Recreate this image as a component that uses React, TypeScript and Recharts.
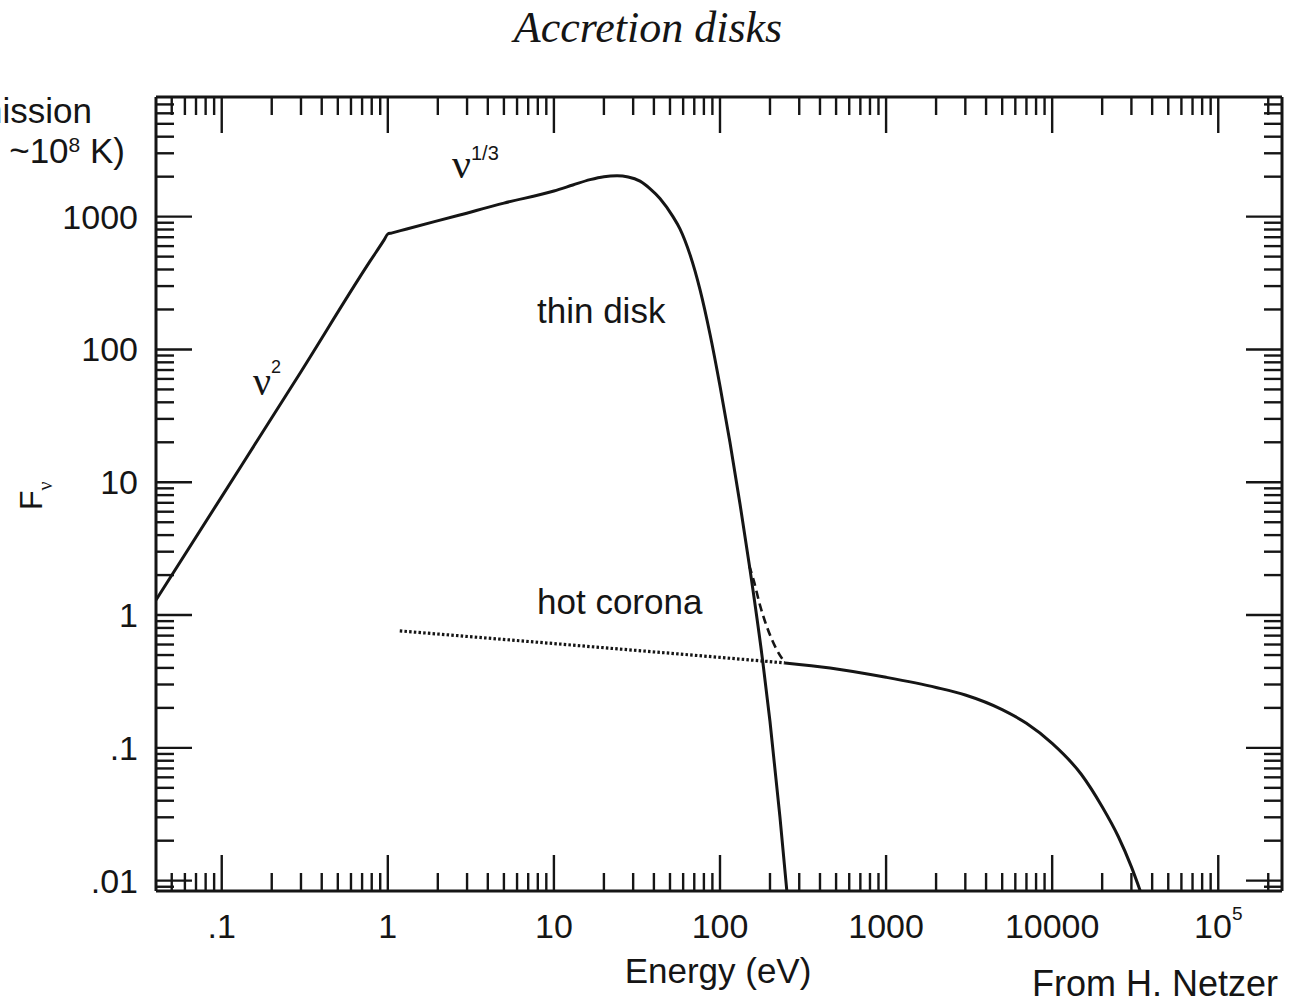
import React from 'react';
import { ComposedChart, Line, XAxis, YAxis } from 'recharts';

// ---- axes ----
const xDomain = [0.0402, 242000];
const yDomain = [0.00836, 7960];
const xMajorTicks = [0.1, 1, 10, 100, 1000, 10000, 100000];
const xMajorLabels = ['.1', '1', '10', '100', '1000', '10000', '10^5'];
const yMajorTicks = [0.01, 0.1, 1, 10, 100, 1000];
const yMajorLabels = ['.01', '.1', '1', '10', '100', '1000'];
const minorMultipliers = [2, 3, 4, 5, 6, 7, 8, 9];
const xDecades = [0.01, 0.1, 1, 10, 100, 1000, 10000, 100000];
const yDecades = [0.001, 0.01, 0.1, 1, 10, 100, 1000];

// ---- series (energy in eV, flux F_nu) ----
const thinDiskEnergy = [0.0402, 0.1, 0.3, 0.78, 0.95, 1.0, 1.05, 1.3, 2.71, 5, 10, 13, 16.5, 20, 24, 28, 33, 38, 43.5, 52.1, 57.4, 65.9, 75.8, 87.1, 100, 114.8, 131.9, 151.6, 181.6, 200, 229.7, 253];
const thinDiskFlux = [1.3, 7.8, 68, 460, 668, 740, 752, 808, 1030, 1265, 1560, 1730, 1900, 2000, 2030, 1990, 1850, 1620, 1370, 1000, 810, 520, 282, 130, 53, 20, 6.9, 2.2, 0.43, 0.158, 0.03, 0.0082];

const coronaExtrapEnergy = [1.18, 10, 100, 246];
const coronaExtrapFlux = [0.76, 0.61, 0.48, 0.436];

const coronaEnergy = [246, 460, 1000, 2000, 3000, 5000, 7000, 10000, 15000, 20000, 25000, 30000, 34000];
const coronaFlux = [0.436, 0.4, 0.34, 0.285, 0.25, 0.194, 0.153, 0.108, 0.063, 0.036, 0.0215, 0.0127, 0.0083];

const sumEnergy = [150, 160, 174, 192, 220, 246];
const sumFlux = [2.35, 1.8, 1.19, 0.81, 0.546, 0.44];

const zip = (es: number[], fs: number[]) => es.map((e, i) => ({ e, f: fs[i] }));
const thinDiskData = zip(thinDiskEnergy, thinDiskFlux);
const coronaExtrapData = zip(coronaExtrapEnergy, coronaExtrapFlux);
const coronaData = zip(coronaEnergy, coronaFlux);
const sumData = zip(sumEnergy, sumFlux);

const inDomain = (v: number, d: number[]) => v >= d[0] && v <= d[1];
const buildTicks = (decades: number[], d: number[]) => {
  const out: number[] = [];
  decades.forEach((dec) => {
    [1, ...minorMultipliers].forEach((m) => {
      const v = +(m * dec).toPrecision(6);
      if (inDomain(v, d)) out.push(v);
    });
  });
  return out;
};
const xTicks = buildTicks(xDecades, xDomain);
const yTicks = buildTicks(yDecades, yDomain);

const INK = '#151515';
const SANS = '"Liberation Sans", Arial, Helvetica, sans-serif';
const SERIF = '"Liberation Serif", "Times New Roman", serif';
const MAJOR = 36;
const MINOR = 18;
const TICK_W = 2.4;
const LABEL_SIZE = 34;

const majorIndex = (v: number, majors: number[]) =>
  majors.findIndex((m) => Math.abs(m - v) / m < 1e-6);

const renderXLabel = (label: string, x: number, y: number) => {
  if (label === '10^5') {
    return (
      <text x={x} y={y} textAnchor="middle" fontFamily={SANS} fontSize={LABEL_SIZE} fill={INK}>
        10<tspan dy={-18} fontSize={19}>5</tspan>
      </text>
    );
  }
  return (
    <text x={x} y={y} textAnchor="middle" fontFamily={SANS} fontSize={LABEL_SIZE} fill={INK}>
      {label}
    </text>
  );
};

const BottomTick = (props: any) => {
  const { x, y, payload } = props;
  const idx = majorIndex(payload.value, xMajorTicks);
  const len = idx >= 0 ? MAJOR : MINOR;
  return (
    <g>
      <line x1={x} y1={y} x2={x} y2={y - len} stroke={INK} strokeWidth={TICK_W} />
      {idx >= 0 ? renderXLabel(xMajorLabels[idx], x, y + 47) : null}
    </g>
  );
};

const TopTick = (props: any) => {
  const { x, y, payload } = props;
  const idx = majorIndex(payload.value, xMajorTicks);
  const len = idx >= 0 ? MAJOR : MINOR;
  return <line x1={x} y1={y} x2={x} y2={y + len} stroke={INK} strokeWidth={TICK_W} />;
};

const LeftTick = (props: any) => {
  const { x, y, payload } = props;
  const idx = majorIndex(payload.value, yMajorTicks);
  const len = idx >= 0 ? MAJOR : MINOR;
  return (
    <g>
      <line x1={x} y1={y} x2={x + len} y2={y} stroke={INK} strokeWidth={TICK_W} />
      {idx >= 0 ? (
        <text x={x - 18} y={y + 12} textAnchor="end" fontFamily={SANS} fontSize={LABEL_SIZE} fill={INK}>
          {yMajorLabels[idx]}
        </text>
      ) : null}
    </g>
  );
};

const RightTick = (props: any) => {
  const { x, y, payload } = props;
  const idx = majorIndex(payload.value, yMajorTicks);
  const len = idx >= 0 ? MAJOR : MINOR;
  return <line x1={x} y1={y} x2={x - len} y2={y} stroke={INK} strokeWidth={TICK_W} />;
};

const axisLine = { stroke: INK, strokeWidth: 3 };

export default function App() {
  return (
    <div style={{ position: 'absolute', left: 0, top: 0, width: 1292, height: 1004, background: '#fff' }}>
      <ComposedChart
        width={1292}
        height={1004}
        margin={{ top: 87, right: 0, bottom: 53, left: 96 }}
      >
        <XAxis
          xAxisId="bottom"
          orientation="bottom"
          dataKey="e"
          type="number"
          scale="log"
          domain={xDomain}
          allowDataOverflow
          ticks={xTicks}
          interval={0}
          tickSize={0}
          tickMargin={0}
          tickLine={false}
          axisLine={axisLine}
          height={60}
          tick={<BottomTick />}
        />
        <XAxis
          xAxisId="top"
          orientation="top"
          dataKey="e"
          type="number"
          scale="log"
          domain={xDomain}
          allowDataOverflow
          ticks={xTicks}
          interval={0}
          tickSize={0}
          tickMargin={0}
          tickLine={false}
          axisLine={axisLine}
          height={10}
          tick={<TopTick />}
        />
        <YAxis
          yAxisId="left"
          orientation="left"
          type="number"
          scale="log"
          domain={yDomain}
          allowDataOverflow
          ticks={yTicks}
          interval={0}
          tickSize={0}
          tickMargin={0}
          tickLine={false}
          axisLine={axisLine}
          width={60}
          tick={<LeftTick />}
        />
        <YAxis
          yAxisId="right"
          orientation="right"
          type="number"
          scale="log"
          domain={yDomain}
          allowDataOverflow
          ticks={yTicks}
          interval={0}
          tickSize={0}
          tickMargin={0}
          tickLine={false}
          axisLine={axisLine}
          width={10}
          tick={<RightTick />}
        />
        <Line
          data={coronaExtrapData}
          dataKey="f"
          xAxisId="bottom"
          yAxisId="left"
          type="linear"
          stroke={INK}
          strokeWidth={3.2}
          strokeDasharray="2.5 2.2"
          dot={false}
          activeDot={false}
          isAnimationActive={false}
        />
        <Line
          data={sumData}
          dataKey="f"
          xAxisId="bottom"
          yAxisId="left"
          type="monotone"
          stroke={INK}
          strokeWidth={2.6}
          strokeDasharray="8 5"
          dot={false}
          activeDot={false}
          isAnimationActive={false}
        />
        <Line
          data={thinDiskData}
          dataKey="f"
          xAxisId="bottom"
          yAxisId="left"
          type="monotone"
          stroke={INK}
          strokeWidth={3}
          dot={false}
          activeDot={false}
          isAnimationActive={false}
        />
        <Line
          data={coronaData}
          dataKey="f"
          xAxisId="bottom"
          yAxisId="left"
          type="monotone"
          stroke={INK}
          strokeWidth={3}
          dot={false}
          activeDot={false}
          isAnimationActive={false}
        />
      </ComposedChart>
      <svg
        width={1292}
        height={1004}
        style={{ position: 'absolute', left: 0, top: 0, pointerEvents: 'none' }}
      >
        <text x={648} y={42} textAnchor="middle" fontFamily={SERIF} fontStyle="italic" fontSize={44} fill={INK}>
          Accretion disks
        </text>
        <text x={92} y={123} textAnchor="end" fontFamily={SANS} fontSize={35} fill={INK}>
          Emission
        </text>
        <text x={125} y={163} textAnchor="end" fontFamily={SANS} fontSize={35} fill={INK}>
          (T ~10<tspan dy={-11} fontSize={21}>8</tspan><tspan dy={11}> K)</tspan>
        </text>
        <text x={452} y={178} fontFamily={SERIF} fontSize={42} fill={INK}>
          ν<tspan dy={-18} fontFamily={SANS} fontSize={20}>1/3</tspan>
        </text>
        <text x={253} y={395} fontFamily={SERIF} fontSize={40} fill={INK}>
          ν<tspan dy={-22} fontFamily={SANS} fontSize={18}>2</tspan>
        </text>
        <text x={537} y={323} fontFamily={SANS} fontSize={35} fill={INK}>
          thin disk
        </text>
        <text x={537} y={614} fontFamily={SANS} fontSize={35} fill={INK}>
          hot corona
        </text>
        <g transform="translate(42,510) rotate(-90)">
          <text x={0} y={0} fontFamily={SANS} fontSize={32} fill={INK}>
            F<tspan dy={10} fontFamily={SERIF} fontSize={20}>ν</tspan>
          </text>
        </g>
        <text x={718} y={983} textAnchor="middle" fontFamily={SANS} fontSize={35} fill={INK}>
          Energy (eV)
        </text>
        <text x={1032} y={996} fontFamily={SANS} fontSize={36} fill={INK}>
          From H. Netzer
        </text>
      </svg>
    </div>
  );
}
